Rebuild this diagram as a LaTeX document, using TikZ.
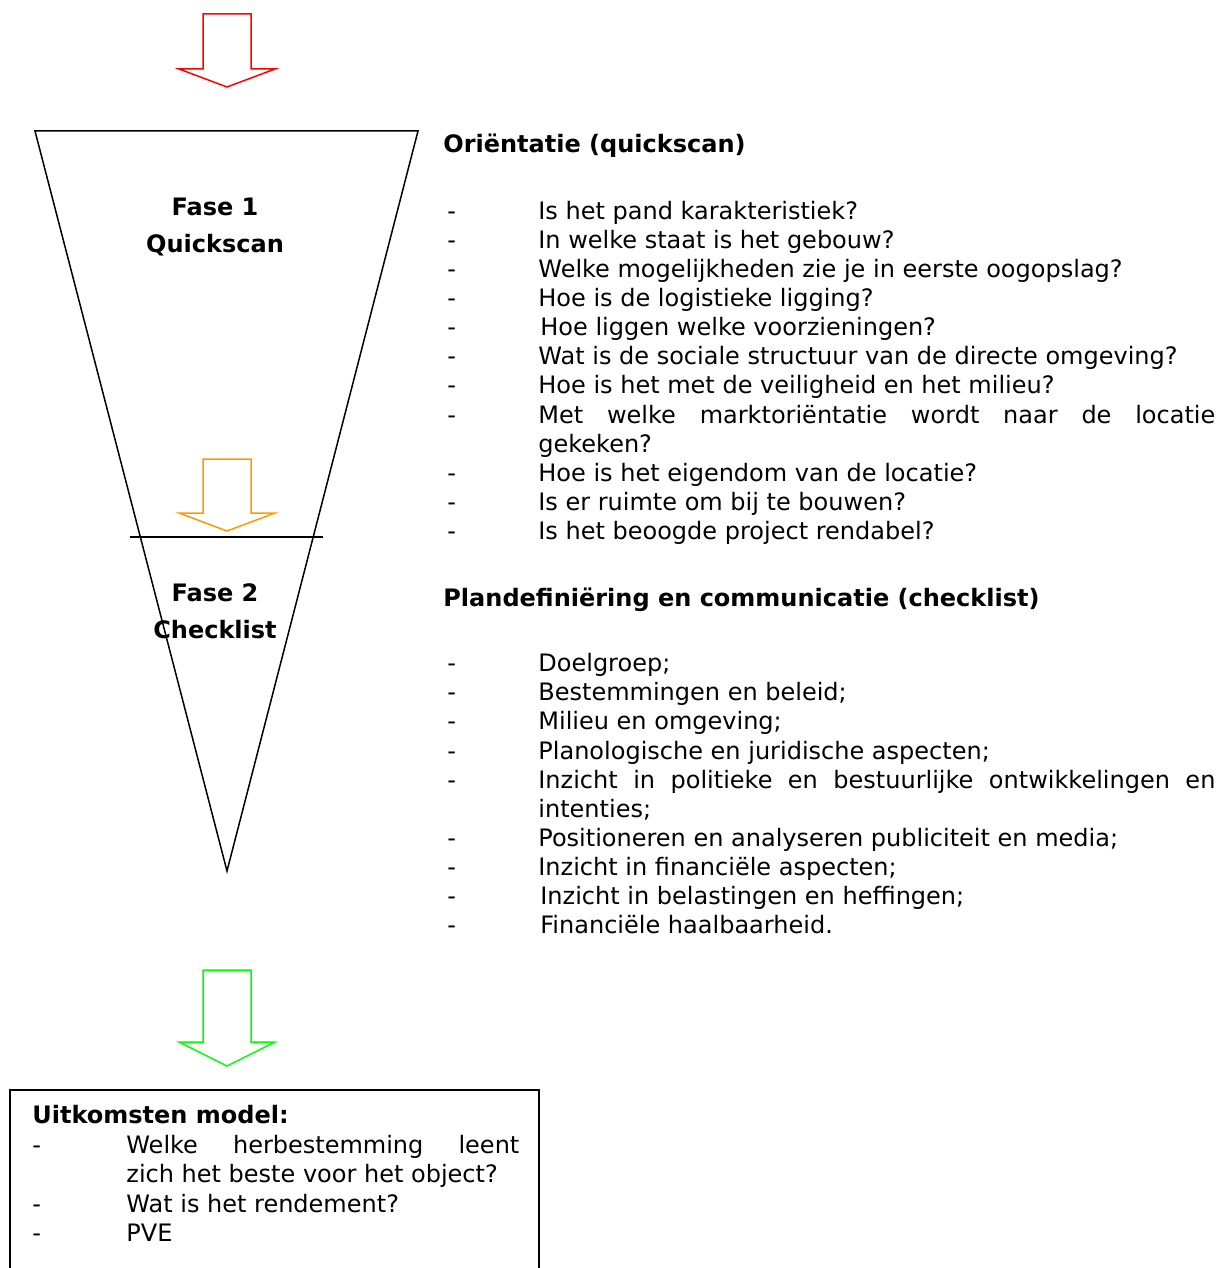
\documentclass[tikz,border=0pt]{standalone}
\usepackage{fontspec}
\setmainfont{DejaVu Sans}
\usetikzlibrary{calc,positioning}
\definecolor{arrowred}{RGB}{255,0,0}
\definecolor{arroworange}{RGB}{255,153,0}
\definecolor{arrowgreen}{RGB}{0,255,0}
\hyphenpenalty=10000
\exhyphenpenalty=10000
\tolerance=9000
\tikzset{
  txt/.style={inner sep=0pt, font=\fontsize{12pt}{14.6pt}\selectfont},
  phase/.style={txt, anchor=base, font=\fontsize{12pt}{14.6pt}\selectfont\bfseries},
  heading/.style={txt, anchor=base west, font=\fontsize{12pt}{14.6pt}\selectfont\bfseries},
  bullet/.style={txt, anchor=base west},
  item/.style={txt, anchor=base west, text width=338.5pt, align=justify},
  boxitem/.style={txt, anchor=base west, text width=196.5pt, align=justify},
  bigarrow/.style={line width=0.75pt, line join=miter}
}

\begin{document}
\begin{tikzpicture}[x=0.5pt, y=-0.5pt]

  \clip (0,0) rectangle (1219,1268);

  % arrows
  \draw [bigarrow, arrowred] (203,14) -- (251,14) -- (251,69) -- (275,69) -- (227,87) -- (179,69) -- (203,69) -- cycle;
  \draw [bigarrow, arroworange] (203,459) -- (251,459) -- (251,513) -- (275,513) -- (227,531) -- (179,513) -- (203,513) -- cycle;
  \draw [bigarrow, arrowgreen] (203,970) -- (251,970) -- (251,1042) -- (275,1042) -- (227,1066) -- (179,1042) -- (203,1042) -- cycle;

  % funnel
  \coordinate (ftl) at (35,131);
  \coordinate (ftr) at (418,131);
  \coordinate (fbot) at (227,871);
  \draw [line width=0.75pt] (ftl) -- (ftr) -- (fbot) -- cycle;
  \coordinate (cutl) at (130,537);
  \coordinate (cutr) at (323,537);
  \draw [line width=0.75pt] (cutl) -- (cutr);

  \node [phase] at (215,215) (fase1) {Fase 1};
  \node [phase] at (215,252) (fase1name) {Quickscan};
  \node [phase] at (215,601) (fase2) {Fase 2};
  \node [phase] at (215,638) (fase2name) {Checklist};

  % orientatie
  \node [heading] at (443,152) (orient) {Oriëntatie (quickscan)};
  \node [bullet] at (447,219) (qd1) {-};  \node [item] at (538,219) (q1) {Is het pand karakteristiek?};
  \node [bullet] at (447,248) (qd2) {-};  \node [item] at (538,248) (q2) {In welke staat is het gebouw?};
  \node [bullet] at (447,277) (qd3) {-};  \node [item] at (538,277) (q3) {Welke mogelijkheden zie je in eerste oogopslag?};
  \node [bullet] at (447,306) (qd4) {-};  \node [item] at (538,306) (q4) {Hoe is de logistieke ligging?};
  \node [bullet] at (447,335) (qd5) {-};  \node [item] at (540,335) (q5) {Hoe liggen welke voorzieningen?};
  \node [bullet] at (447,364) (qd6) {-};  \node [item] at (538,364) (q6) {Wat is de sociale structuur van de directe omgeving?};
  \node [bullet] at (447,393) (qd7) {-};  \node [item] at (538,393) (q7) {Hoe is het met de veiligheid en het milieu?};
  \node [bullet] at (447,423) (qd8) {-};  \node [item] at (538,423) (q8) {Met welke marktoriëntatie wordt naar de locatie gekeken?};
  \node [bullet] at (447,481) (qd9) {-};  \node [item] at (538,481) (q9) {Hoe is het eigendom van de locatie?};
  \node [bullet] at (447,510) (qd10) {-}; \node [item] at (538,510) (q10) {Is er ruimte om bij te bouwen?};
  \node [bullet] at (447,539) (qd11) {-}; \node [item] at (538,539) (q11) {Is het beoogde project rendabel?};

  % checklist
  \node [heading] at (443,606) (plan) {Plandefiniëring en communicatie (checklist)};
  \node [bullet] at (447,671) (cd1) {-}; \node [item] at (538,671) (c1) {Doelgroep;};
  \node [bullet] at (447,700) (cd2) {-}; \node [item] at (538,700) (c2) {Bestemmingen en beleid;};
  \node [bullet] at (447,729) (cd3) {-}; \node [item] at (538,729) (c3) {Milieu en omgeving;};
  \node [bullet] at (447,759) (cd4) {-}; \node [item] at (538,759) (c4) {Planologische en juridische aspecten;};
  \node [bullet] at (447,788) (cd5) {-}; \node [item] at (538,788) (c5) {Inzicht in politieke en bestuurlijke ontwikkelingen en intenties;};
  \node [bullet] at (447,846) (cd6) {-}; \node [item] at (538,846) (c6) {Positioneren en analyseren publiciteit en media;};
  \node [bullet] at (447,875) (cd7) {-}; \node [item] at (538,875) (c7) {Inzicht in financiële aspecten;};
  \node [bullet] at (447,904) (cd8) {-}; \node [item] at (540,904) (c8) {Inzicht in belastingen en heffingen;};
  \node [bullet] at (447,933) (cd9) {-}; \node [item] at (540,933) (c9) {Financiële haalbaarheid.};

  % uitkomsten
  \draw [line width=1pt] (10,1290) -- (10,1090) -- (539,1090) -- (539,1290);
  \node [heading] at (32,1123) (result) {Uitkomsten model:};
  \node [bullet] at (32,1153) (rd1) {-}; \node [boxitem] at (126,1153) (r1) {Welke herbestemming leent\linebreak zich het beste voor het object?};
  \node [bullet] at (32,1212) (rd2) {-}; \node [boxitem] at (126,1212) (r2) {Wat is het rendement?};
  \node [bullet] at (32,1241) (rd3) {-}; \node [boxitem] at (126,1241) (r3) {PVE};

\end{tikzpicture}
\end{document}
